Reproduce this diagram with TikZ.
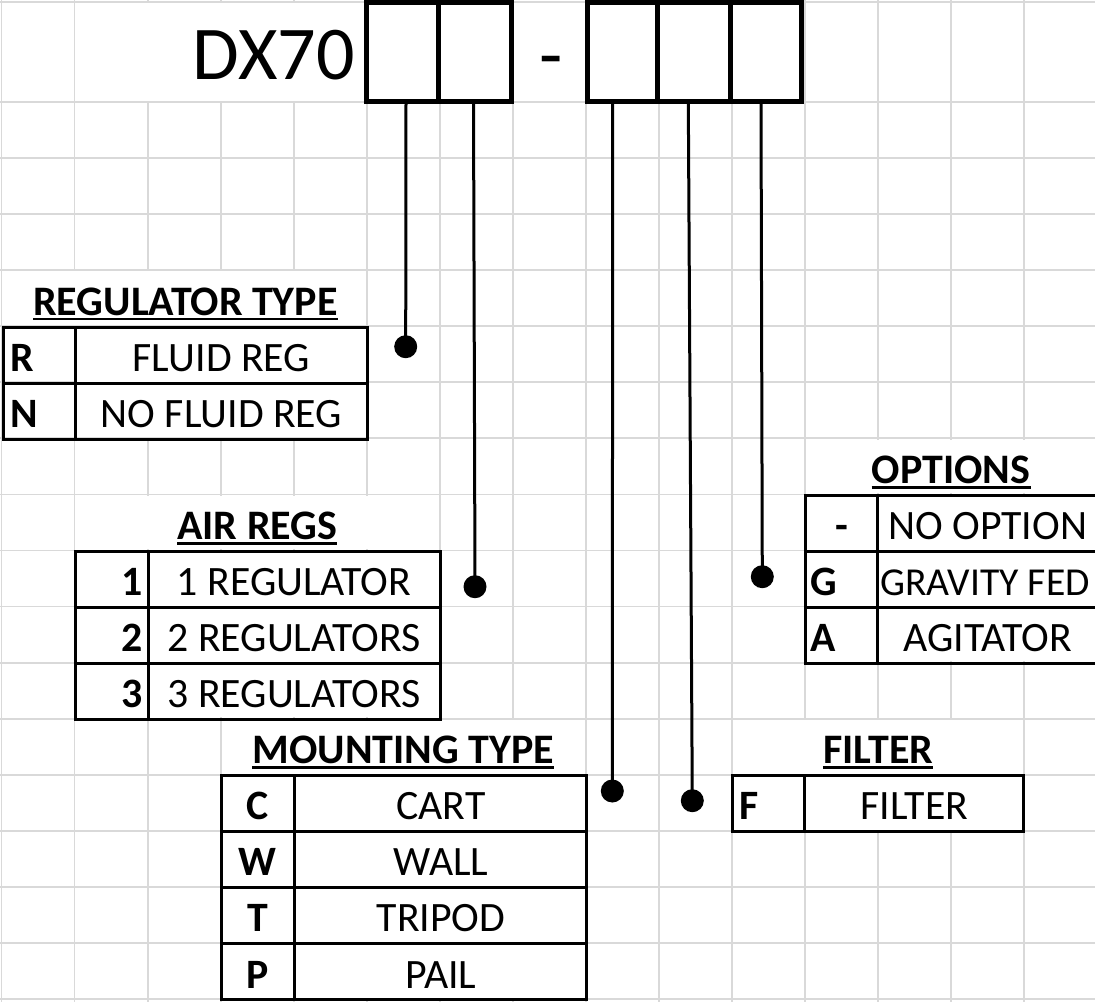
\documentclass[tikz,border=0pt]{standalone}
\usepackage{fontspec}
\setmainfont{Carlito}
\definecolor{gridc}{RGB}{217,217,217}
\newcommand\gx[1]{1.5+73.05*#1}
\newcommand\gy[1]{102+56.06*#1}
\newcommand\mblank[4]{\fill[white] ({\gx{#1}+1.2},{\gy{#2}+1.2}) rectangle ({\gx{#3}-1.2},{\gy{#4}-1.2});}
\begin{document}
\begin{tikzpicture}[x=1pt,y=-1pt,
  gridline/.style={draw=gridc,line width=1.8pt},
  tbl/.style={draw=black,line width=3pt},
  codebox/.style={draw=black,line width=5pt,inner sep=0pt,minimum height=98.5pt},
  txt/.style={inner sep=0pt,anchor=base,font=\fontsize{41.8}{48}\selectfont},
  keyb/.style={inner sep=0pt,anchor=base,font=\fontsize{41.8}{48}\selectfont\bfseries},
  ttl/.style={inner sep=0pt,anchor=base,font=\fontsize{42}{48}\selectfont\bfseries},
  big/.style={inner sep=0pt,font=\fontsize{76}{90}\selectfont},
  uline/.style={line width=2.8pt},
  conn/.style={draw=black,line width=3pt},
  dot/.style={circle,fill=black,inner sep=0pt,minimum size=23pt}]
\useasboundingbox (0,0) rectangle (1095,1002);
\fill[white] (0,0) rectangle (1095,1002);
% grid
\foreach \k in {0,...,14} \draw[gridline] ({\gx{\k}},0) -- ({\gx{\k}},1002);
\foreach \k in {0,...,16} \draw[gridline] (0,{\gy{\k}}) -- (1095,{\gy{\k}});
\draw[gridline] (0,1.7) -- (1095,1.7);
% merged cells
\fill[white] ({\gx{1}+1.2},2.9) rectangle ({\gx{5}-1.2},{\gy{0}-1.2});
\mblank{0}{3}{5}{4}
\mblank{1}{4}{5}{6}
\mblank{11}{6}{15}{7}
\mblank{1}{7}{6}{8}
\mblank{12}{7}{15}{10}
\mblank{2}{8}{6}{11}
\mblank{3}{11}{8}{12}
\mblank{10}{11}{14}{12}
\mblank{4}{12}{8}{16}
\mblank{11}{12}{14}{13}
% header
\node[big,anchor=base east] (dx) at (355,79) {DX70};
\node[big,anchor=base] (dash) at (551,80) {-};
\node[codebox,minimum width=72.5pt] (bF) at (402.25,51.75) {};
\node[codebox,minimum width=73pt] (bG) at (475,51.75) {};
\node[codebox,minimum width=70pt] (bI) at (622.5,51.75) {};
\node[codebox,minimum width=73pt] (bJ) at (694,51.75) {};
\node[codebox,minimum width=71.2pt] (bK) at (766.1,51.75) {};
% REGULATOR TYPE
\draw[tbl] (3,{\gy{4}+1}) rectangle ({\gx{5}+0.8},{\gy{6}+1});
\draw[tbl] (3,{\gy{5}+1}) -- ({\gx{5}+0.8},{\gy{5}+1});
\draw[tbl] ({\gx{1}+0.5},{\gy{4}+1}) -- ({\gx{1}+0.5},{\gy{6}+1});
\node[ttl] (t1) at (185.5,315.2) {REGULATOR TYPE};
\draw[uline] ([yshift=-3.8pt]t1.base west) -- ([yshift=-3.8pt]t1.base east);
\node[keyb,anchor=base west] (kR) at (10,371.3) {R};
\node[keyb,anchor=base west] (kN) at (10,427.4) {N};
\node[txt] (vR) at (221.5,371.3) {FLUID REG};
\node[txt] (vN) at (221.5,427.4) {NO FLUID REG};
% AIR REGS
\draw[tbl] ({\gx{1}+0.5},{\gy{8}+1}) rectangle ({\gx{6}+0.5},{\gy{11}+1});
\draw[tbl] ({\gx{1}+0.5},{\gy{9}+1}) -- ({\gx{6}+0.5},{\gy{9}+1});
\draw[tbl] ({\gx{1}+0.5},{\gy{10}+1}) -- ({\gx{6}+0.5},{\gy{10}+1});
\draw[tbl] ({\gx{2}+0.5},{\gy{8}+1}) -- ({\gx{2}+0.5},{\gy{11}+1});
\node[ttl] (t2) at (257.2,539.5) {AIR REGS};
\draw[uline] ([yshift=-3.8pt]t2.base west) -- ([yshift=-3.8pt]t2.base east);
\node[keyb,anchor=base east] (k1) at (143,595.5) {1};
\node[keyb,anchor=base east] (k2) at (143,651.6) {2};
\node[keyb,anchor=base east] (k3) at (143,707.7) {3};
\node[txt] (v1) at (294,595.5) {1 REGULATOR};
\node[txt] (v2) at (294,651.6) {2 REGULATORS};
\node[txt] (v3) at (294,707.7) {3 REGULATORS};
% OPTIONS
\draw[tbl] ({\gx{11}+0.5},{\gy{7}+1}) rectangle ({\gx{15}+0.5},{\gy{10}+1});
\draw[tbl] ({\gx{11}+0.5},{\gy{8}+1}) -- ({\gx{15}+0.5},{\gy{8}+1});
\draw[tbl] ({\gx{11}+0.5},{\gy{9}+1}) -- ({\gx{15}+0.5},{\gy{9}+1});
\draw[tbl] ({\gx{12}-0.8},{\gy{7}+1}) -- ({\gx{12}-0.8},{\gy{10}+1});
\node[ttl] (t3) at (951.15,483.4) {OPTIONS};
\draw[uline] ([yshift=-3.8pt]t3.base west) -- ([yshift=-3.8pt]t3.base east);
\node[keyb] (kdash) at (841.6,539.5) {-};
\node[keyb,anchor=base west] (kG) at (810,595.5) {G};
\node[keyb,anchor=base west] (kA) at (810,651.6) {A};
\node[txt] (vdash) at (987.7,539.5) {NO OPTION};
\node[txt,font=\fontsize{39.6}{48}\selectfont] (vG) at (985,595.5) {GRAVITY FED};
\node[txt] (vA) at (987.7,651.6) {AGITATOR};
% MOUNTING TYPE
\draw[tbl] ({\gx{3}+0.8},{\gy{12}+1}) rectangle ({\gx{8}+0.5},{\gy{16}+0.6});
\foreach \r in {13,14,15} \draw[tbl] ({\gx{3}+0.8},{\gy{\r}+1}) -- ({\gx{8}+0.5},{\gy{\r}+1});
\draw[tbl] ({\gx{4}+0.5},{\gy{12}+1}) -- ({\gx{4}+0.5},{\gy{16}+0.6});
\node[ttl] (t4) at (403.3,763.7) {MOUNTING TYPE};
\draw[uline] ([yshift=-3.8pt]t4.base west) -- ([yshift=-3.8pt]t4.base east);
\node[keyb] (kC) at (257.6,819.8) {C};
\node[keyb] (kW) at (257.6,875.8) {W};
\node[keyb] (kT) at (257.6,931.9) {T};
\node[keyb] (kP) at (257.6,988) {P};
\node[txt] (vC) at (441,819.8) {CART};
\node[txt] (vW) at (441,875.8) {WALL};
\node[txt] (vT) at (441,931.9) {TRIPOD};
\node[txt] (vP) at (441,988) {PAIL};
% FILTER
\draw[tbl] ({\gx{10}},{\gy{12}+1}) rectangle ({\gx{14}-0.5},{\gy{13}+1});
\draw[tbl] ({\gx{11}-0.8},{\gy{12}+1}) -- ({\gx{11}-0.8},{\gy{13}+1});
\node[ttl] (t5) at (878.1,763.7) {FILTER};
\draw[uline] ([yshift=-3.8pt]t5.base west) -- ([yshift=-3.8pt]t5.base east);
\node[keyb,anchor=base west] (kF) at (739,819.8) {F};
\node[txt] (vF) at (914.6,819.8) {FILTER};
% connectors
\coordinate (cF) at (406,101);
\coordinate (cG) at (473.5,101);
\coordinate (cI) at (612.7,101);
\coordinate (cJ) at (688.3,101);
\coordinate (cK) at (761,101);
\node[dot] (dF) at (405.7,346.7) {};
\node[dot] (dG) at (475,586.7) {};
\node[dot] (dI) at (612.3,791) {};
\node[dot] (dJ) at (692.3,800.7) {};
\node[dot] (dK) at (762.3,576.7) {};
\draw[conn] (cF) -- (dF.center);
\draw[conn] (cG) -- (dG.center);
\draw[conn] (cI) -- (dI.center);
\draw[conn] (cJ) -- (dJ.center);
\draw[conn] (cK) -- (dK.center);
\end{tikzpicture}
\end{document}
